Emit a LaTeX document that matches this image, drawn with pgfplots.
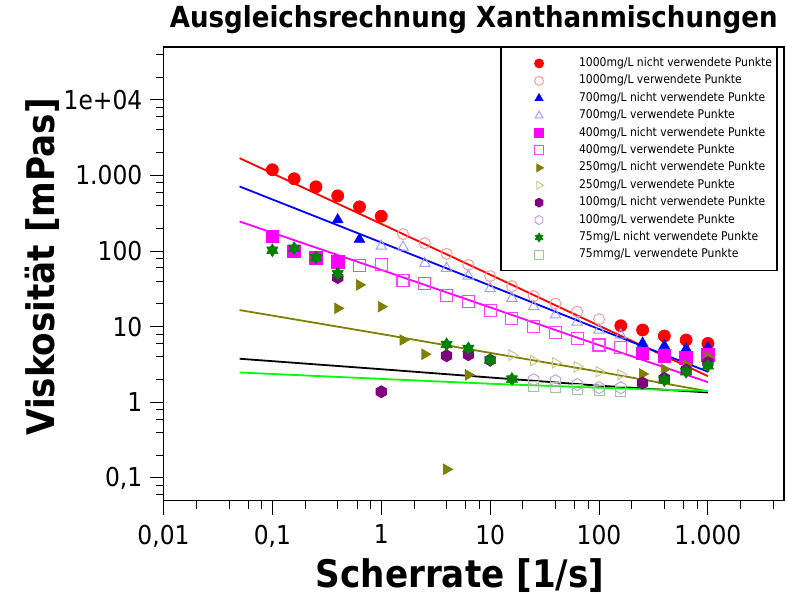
\documentclass[border=0pt]{standalone}
\usepackage{fontspec}
\setmainfont{DejaVu Sans}[FakeStretch=0.9]
\usepackage{pgfplots}
\pgfplotsset{compat=1.18}

% series colours
\definecolor{cRed}{HTML}{FF0000}
\definecolor{cRedL}{HTML}{FF9A9A}
\definecolor{cBlue}{HTML}{0000FF}
\definecolor{cBlueL}{HTML}{A0A0FF}
\definecolor{cMag}{HTML}{FF00FF}
\definecolor{cMagL}{HTML}{FF40FF}
\definecolor{cOlive}{HTML}{808000}
\definecolor{cOliveL}{HTML}{C8C890}
\definecolor{cPurple}{HTML}{800080}
\definecolor{cPurpleL}{HTML}{C8A0D2}
\definecolor{cGreen}{HTML}{008000}
\definecolor{cGreenL}{HTML}{99C899}
\definecolor{cFitGreen}{HTML}{00FF00}

% hexagon marks (filled and open) and a six-pointed star
\pgfdeclareplotmark{hexagon*}{%
  \pgfpathmoveto{\pgfqpointpolar{90}{\pgfplotmarksize}}%
  \pgfpathlineto{\pgfqpointpolar{150}{\pgfplotmarksize}}%
  \pgfpathlineto{\pgfqpointpolar{210}{\pgfplotmarksize}}%
  \pgfpathlineto{\pgfqpointpolar{270}{\pgfplotmarksize}}%
  \pgfpathlineto{\pgfqpointpolar{330}{\pgfplotmarksize}}%
  \pgfpathlineto{\pgfqpointpolar{30}{\pgfplotmarksize}}%
  \pgfpathclose
  \pgfusepathqfillstroke
}
\pgfdeclareplotmark{hexagon}{%
  \pgfpathmoveto{\pgfqpointpolar{90}{\pgfplotmarksize}}%
  \pgfpathlineto{\pgfqpointpolar{150}{\pgfplotmarksize}}%
  \pgfpathlineto{\pgfqpointpolar{210}{\pgfplotmarksize}}%
  \pgfpathlineto{\pgfqpointpolar{270}{\pgfplotmarksize}}%
  \pgfpathlineto{\pgfqpointpolar{330}{\pgfplotmarksize}}%
  \pgfpathlineto{\pgfqpointpolar{30}{\pgfplotmarksize}}%
  \pgfpathclose
  \pgfusepathqstroke
}
\pgfdeclareplotmark{star6}{%
  \pgfpathmoveto{\pgfqpointpolar{90}{\pgfplotmarksize}}%
  \pgfpathlineto{\pgfqpointpolar{120}{0.6\pgfplotmarksize}}%
  \pgfpathlineto{\pgfqpointpolar{150}{\pgfplotmarksize}}%
  \pgfpathlineto{\pgfqpointpolar{180}{0.6\pgfplotmarksize}}%
  \pgfpathlineto{\pgfqpointpolar{210}{\pgfplotmarksize}}%
  \pgfpathlineto{\pgfqpointpolar{240}{0.6\pgfplotmarksize}}%
  \pgfpathlineto{\pgfqpointpolar{270}{\pgfplotmarksize}}%
  \pgfpathlineto{\pgfqpointpolar{300}{0.6\pgfplotmarksize}}%
  \pgfpathlineto{\pgfqpointpolar{330}{\pgfplotmarksize}}%
  \pgfpathlineto{\pgfqpointpolar{0}{0.6\pgfplotmarksize}}%
  \pgfpathlineto{\pgfqpointpolar{30}{\pgfplotmarksize}}%
  \pgfpathlineto{\pgfqpointpolar{60}{0.6\pgfplotmarksize}}%
  \pgfpathclose
  \pgfusepathqfillstroke
}

\begin{document}
\begin{tikzpicture}
\useasboundingbox (0,0) rectangle (787pt,597pt);
\begin{axis}[
  at={(163.5pt,96.3pt)}, anchor=south west,
  scale only axis, width=620.5pt, height=453.7pt,
  xmode=log, ymode=log,
  xmin=0.01, xmax=5000, ymin=0.05, ymax=50000,
  axis line style={black, line width=1.1pt},
  tick style={black, line width=1pt},
  tick align=outside, xtick pos=bottom, ytick pos=left,
  major tick length=14pt, minor tick length=8pt,
  xtick={0.01,0.1,1,10,100,1000},
  xticklabels={{0,01},{0,1},1,10,100,{1.000}},
  minor xtick={0.02,0.04,0.06,0.08,0.2,0.4,0.6,0.8,2,4,6,8,20,40,60,80,200,400,600,800,2000,4000},
  ytick={0.1,1,10,100,1000,10000},
  yticklabels={{0,1},1,10,100,{1.000},1e+04},
  minor ytick={0.06,0.08,0.2,0.4,0.6,0.8,2,4,6,8,20,40,60,80,200,400,600,800,2000,4000,6000,8000,20000,40000},
  /pgf/number format/assume math mode=true,
  ticklabel style={font=\fontsize{26}{28}\selectfont, inner sep=0pt},
  xticklabel style={yshift=-10pt},
  yticklabel style={xshift=-7pt},
  title={Ausgleichsrechnung Xanthanmischungen},
  title style={at={(axis description cs:0.5,1.0298)}, anchor=base,
    font=\bfseries\fontsize{29}{31}\selectfont, inner sep=0pt},
  xlabel={Scherrate [1/s]},
  xlabel style={at={(axis description cs:0.478,-0.1918)}, anchor=base,
    font=\bfseries\fontsize{38}{40}\selectfont, inner sep=0pt},
  ylabel={Viskosität [mPas]},
  ylabel style={at={(axis description cs:-0.1749,0.515)}, anchor=base, rotate=0,
    font=\bfseries\fontsize{38}{40}\selectfont, inner sep=0pt},
  legend style={at={(0.99,1)}, anchor=north east, draw=black, line width=1.5pt,
    fill=white, font=\fontsize{12}{14}\selectfont,
    inner xsep=3pt, inner ysep=7pt, row sep=0pt,
    nodes={inner ysep=2.7pt, text height=9pt, text depth=3pt}},
  legend cell align=left,
  legend image code/.code={
    \path[draw=none, fill=none] (0pt,0pt) -- (73pt,0pt);
    \path[#1, draw=none, fill=none] plot[mark size=4.5pt] coordinates {(35pt,0pt)};
  },
]

% 1000 mg/L
\addplot[only marks, mark=*, mark size=6pt, mark options={draw=cRed, fill=cRed, line width=0.8pt}]
  coordinates {(0.1,1190) (0.1585,904) (0.2512,708) (0.3981,538) (0.631,385) (1,289)
               (158.5,10.3) (251.2,9.04) (398.1,7.53) (631,6.67) (1000,6.01)};
\addlegendentry{1000mg/L nicht verwendete Punkte}
\addplot[only marks, mark=o, mark size=5.5pt, mark options={draw=cRedL, line width=1pt}]
  coordinates {(1.585,168) (2.512,127) (3.981,92) (6.31,65.6) (10,46.7) (15.85,34.4)
               (25.12,25.4) (39.81,20.2) (63.1,15.8) (100,12.6)};
\addlegendentry{1000mg/L verwendete Punkte}

% 700 mg/L
\addplot[only marks, mark=triangle*, mark size=6pt, mark options={draw=cBlue, fill=cBlue, line width=0.8pt}]
  coordinates {(0.3981,259) (0.631,143) (251.2,6.04) (398.1,5.6) (631,5.11) (1000,5.3)};
\addlegendentry{700mg/L nicht verwendete Punkte}
\addplot[only marks, mark=triangle, mark size=6pt, mark options={draw=cBlueL, line width=1pt}]
  coordinates {(1,116) (1.585,113) (2.512,68.9) (3.981,59.2) (6.31,46.7) (10,31.9) (15.85,23.7)
               (25.12,18.4) (39.81,14.3) (63.1,11.5) (100,9.04) (158.5,7.76)};
\addlegendentry{700mg/L verwendete Punkte}

% 400 mg/L
\addplot[only marks, mark=square*, mark size=6.3pt, mark options={draw=cMag, fill=cMag, line width=0.8pt}]
  coordinates {(0.1,156) (0.1585,98.5) (0.2512,82) (0.3981,72.6)
               (251.2,4.43) (398.1,4.13) (631,3.88) (1000,4.22)};
\addlegendentry{400mg/L nicht verwendete Punkte}
\addplot[only marks, mark=square, mark size=6pt, mark options={draw=cMagL, line width=1.1pt}]
  coordinates {(0.631,63.7) (1,65.6) (1.585,40.3) (2.512,37.7) (3.981,26) (6.31,21.8) (10,16.6)
               (15.85,12.9) (25.12,10.2) (39.81,8.33) (63.1,7.0) (100,5.72) (158.5,5.27)};
\addlegendentry{400mg/L verwendete Punkte}

% 250 mg/L
\addplot[only marks, mark=triangle*, mark size=6pt, mark options={rotate=-90, draw=cOlive, fill=cOlive, line width=0.8pt}]
  coordinates {(0.3981,17.5) (0.631,35.7) (1,18.4) (1.585,6.67) (2.512,4.32) (3.981,0.130) (6.31,2.31)
               (251.2,2.37) (398.1,2.74) (631,3.14) (1000,4.0)};
\addlegendentry{250mg/L nicht verwendete Punkte}
\addplot[only marks, mark=triangle, mark size=6pt, mark options={rotate=-90, draw=cOliveL, line width=1pt}]
  coordinates {(15.85,4.22) (25.12,3.55) (39.81,3.34) (63.1,2.95) (100,2.54) (158.5,2.33)};
\addlegendentry{250mg/L verwendete Punkte}

% 100 mg/L
\addplot[only marks, mark=hexagon*, mark size=6pt, mark options={draw=cPurple, fill=cPurple, line width=0.8pt}]
  coordinates {(0.3981,44.6) (1,1.38) (3.981,4.13) (6.31,4.26) (10,3.62)
               (251.2,1.80) (398.1,2.07) (631,2.67) (1000,3.34)};
\addlegendentry{100mg/L nicht verwendete Punkte}
\addplot[only marks, mark=hexagon, mark size=6pt, mark options={draw=cPurpleL, line width=1pt}]
  coordinates {(25.12,1.99) (39.81,1.93) (63.1,1.72) (100,1.56) (158.5,1.56)};
\addlegendentry{100mg/L verwendete Punkte}

% 75 mg/L
\addplot[only marks, mark=star6, mark size=6.5pt, mark options={draw=cGreen, fill=cGreen, line width=0.6pt}]
  coordinates {(0.1,102.5) (0.1585,109) (0.2512,82) (0.3981,50.4) (3.981,5.83) (6.31,5.16) (10,3.62)
               (15.85,2.03) (398.1,1.97) (631,2.54) (1000,3.04)};
\addlegendentry{75mg/L nicht verwendete Punkte}
\addplot[only marks, mark=square, mark size=5pt, mark options={draw=cGreenL, line width=1pt}]
  coordinates {(25.12,1.6) (39.81,1.55) (63.1,1.5) (100,1.45) (158.5,1.38)};
\addlegendentry{75mmg/L verwendete Punkte}

% fitted curves
\addplot[forget plot, cRed, line width=1.8pt] coordinates {(0.05,1694) (1,229) (10,48.8) (100,10.3) (1000,2.22)};
\addplot[forget plot, cBlue, line width=1.8pt] coordinates {(0.05,715) (1,130) (10,35) (100,9.3) (1000,2.54)};
\addplot[forget plot, cMag, line width=1.8pt] coordinates {(0.05,246) (1,56.4) (10,18) (100,5.7) (1000,1.85)};
\addplot[forget plot, cOlive, line width=1.8pt] coordinates {(0.05,16.6) (1,8.0) (10,4.51) (100,2.54) (1000,1.4)};
\addplot[forget plot, black, line width=1.8pt] coordinates {(0.05,3.77) (1,2.74) (10,2.13) (100,1.66) (1000,1.35)};
\addplot[forget plot, cFitGreen, line width=1.8pt] coordinates {(0.05,2.48) (1,2.04) (10,1.76) (100,1.56) (1000,1.41)};

\end{axis}
\end{tikzpicture}
\end{document}
